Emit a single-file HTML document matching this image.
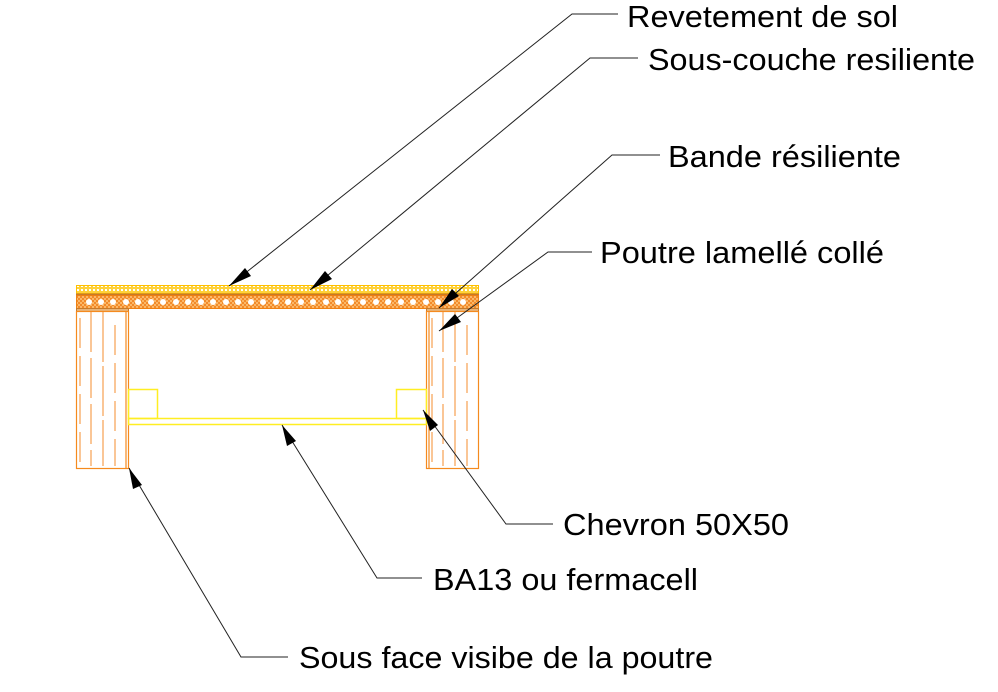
<!DOCTYPE html>
<html><head><style>html,body{margin:0;padding:0;background:#fff;width:998px;height:692px;overflow:hidden}
text{font-family:"Liberation Sans",Arial,sans-serif;font-size:31px;fill:#000}</style></head>
<body>
<svg width="998" height="692" viewBox="0 0 998 692" xmlns="http://www.w3.org/2000/svg">
<defs>
<pattern id="dots" width="4" height="4" patternUnits="userSpaceOnUse"><rect width="4" height="4" fill="#ffd23a"/><rect x="1" y="1" width="2" height="2" fill="#fff"/></pattern>
<pattern id="hatch" width="4" height="4" patternUnits="userSpaceOnUse"><rect width="4" height="4" fill="#fbb868"/><rect x="0" y="0" width="2" height="2" fill="#f28a2a"/><rect x="2" y="2" width="2" height="2" fill="#f28a2a"/></pattern>
</defs>
<rect x="76.5" y="285.5" width="402" height="8" fill="url(#dots)" stroke="#ffc000" stroke-width="1"/>
<line x1="76" y1="294.5" x2="479" y2="294.5" stroke="#c77a2a" stroke-width="2"/>
<rect x="76.5" y="295.5" width="402" height="13" fill="url(#hatch)" stroke="#f08010" stroke-width="1"/>
<g fill="#fff">
<circle cx="89" cy="302" r="3"/><circle cx="101" cy="302" r="3"/><circle cx="113" cy="302" r="3"/><circle cx="126" cy="302" r="3"/><circle cx="138" cy="302" r="3"/><circle cx="151" cy="302" r="3"/><circle cx="163" cy="302" r="3"/><circle cx="176" cy="302" r="3"/><circle cx="188" cy="302" r="3"/><circle cx="201" cy="302" r="3"/><circle cx="213" cy="302" r="3"/><circle cx="226" cy="302" r="3"/><circle cx="238" cy="302" r="3"/><circle cx="251" cy="302" r="3"/><circle cx="263" cy="302" r="3"/><circle cx="276" cy="302" r="3"/><circle cx="288" cy="302" r="3"/><circle cx="301" cy="302" r="3"/><circle cx="313" cy="302" r="3"/><circle cx="326" cy="302" r="3"/><circle cx="338" cy="302" r="3"/><circle cx="351" cy="302" r="3"/><circle cx="363" cy="302" r="3"/><circle cx="376" cy="302" r="3"/><circle cx="388" cy="302" r="3"/><circle cx="401" cy="302" r="3"/><circle cx="413" cy="302" r="3"/><circle cx="426" cy="302" r="3"/><circle cx="438" cy="302" r="3"/><circle cx="451" cy="302" r="3"/><circle cx="463" cy="302" r="3"/>
</g>
<rect x="76.5" y="308.5" width="52" height="3" fill="#e8b47a" stroke="#c77a2a" stroke-width="1"/>
<rect x="426.5" y="308.5" width="52" height="3" fill="#e8b47a" stroke="#c77a2a" stroke-width="1"/>
<g stroke="#f58a1e" stroke-width="1.2" fill="none">
<rect x="76.5" y="311.5" width="52" height="157"/>
<rect x="426.5" y="311.5" width="52" height="157"/>
<line x1="126" y1="312" x2="126" y2="468"/>
<line x1="429" y1="312" x2="429" y2="468"/>
</g>
<g stroke="#f7a050" stroke-width="1.2" stroke-dasharray="30,8">
<line x1="80" y1="318" x2="80" y2="466"/><line x1="91" y1="312" x2="91" y2="466" stroke-dasharray="40,6"/>
<line x1="103" y1="312" x2="103" y2="466" stroke-dasharray="50,4"/><line x1="115" y1="325" x2="115" y2="466"/>
<line x1="432" y1="318" x2="432" y2="466"/><line x1="443" y1="312" x2="443" y2="466" stroke-dasharray="40,6"/>
<line x1="455" y1="312" x2="455" y2="466" stroke-dasharray="50,4"/><line x1="467" y1="325" x2="467" y2="466"/>
</g>
<g stroke="#ffee22" stroke-width="1.5" fill="none">
<rect x="128.5" y="389.5" width="29" height="29"/>
<rect x="396.5" y="389.5" width="30" height="29"/>
<rect x="128.5" y="418.5" width="298" height="6"/>
</g>
<g stroke="#222" stroke-width="1" fill="none">
<polyline points="229,286 572,14 618,14"/>
<polyline points="310,290 590,58 638,58"/>
<polyline points="439,308 612,155 660,155"/>
<polyline points="439,331 548,252 592,252"/>
<polyline points="423,410 506,524 553,524"/>
<polyline points="282,425 377,578 422,578"/>
<polyline points="129,468 241,657 288,657"/>
</g>
<g fill="#000">
<polygon points="229,286 245,268 251,276"/>
<polygon points="310,290 325,271 332,279"/>
<polygon points="439,308 452,289 459,296"/>
<polygon points="439,331 455,314 461,322"/>
<polygon points="423,410 430,431 438,425"/>
<polygon points="282,425 287,446 296,441"/>
<polygon points="129,468 133,489 142,485"/>
</g>
<text x="627" y="27" textLength="271" lengthAdjust="spacingAndGlyphs">Revetement de sol</text>
<text x="648" y="70" textLength="327" lengthAdjust="spacingAndGlyphs">Sous-couche resiliente</text>
<text x="668" y="167" textLength="233" lengthAdjust="spacingAndGlyphs">Bande résiliente</text>
<text x="600" y="263" textLength="284" lengthAdjust="spacingAndGlyphs">Poutre lamellé collé</text>
<text x="563" y="535" textLength="226" lengthAdjust="spacingAndGlyphs">Chevron 50X50</text>
<text x="433" y="590" textLength="265" lengthAdjust="spacingAndGlyphs">BA13 ou fermacell</text>
<text x="299" y="668" textLength="414" lengthAdjust="spacingAndGlyphs">Sous face visibe de la poutre</text>
</svg>
</body></html>
